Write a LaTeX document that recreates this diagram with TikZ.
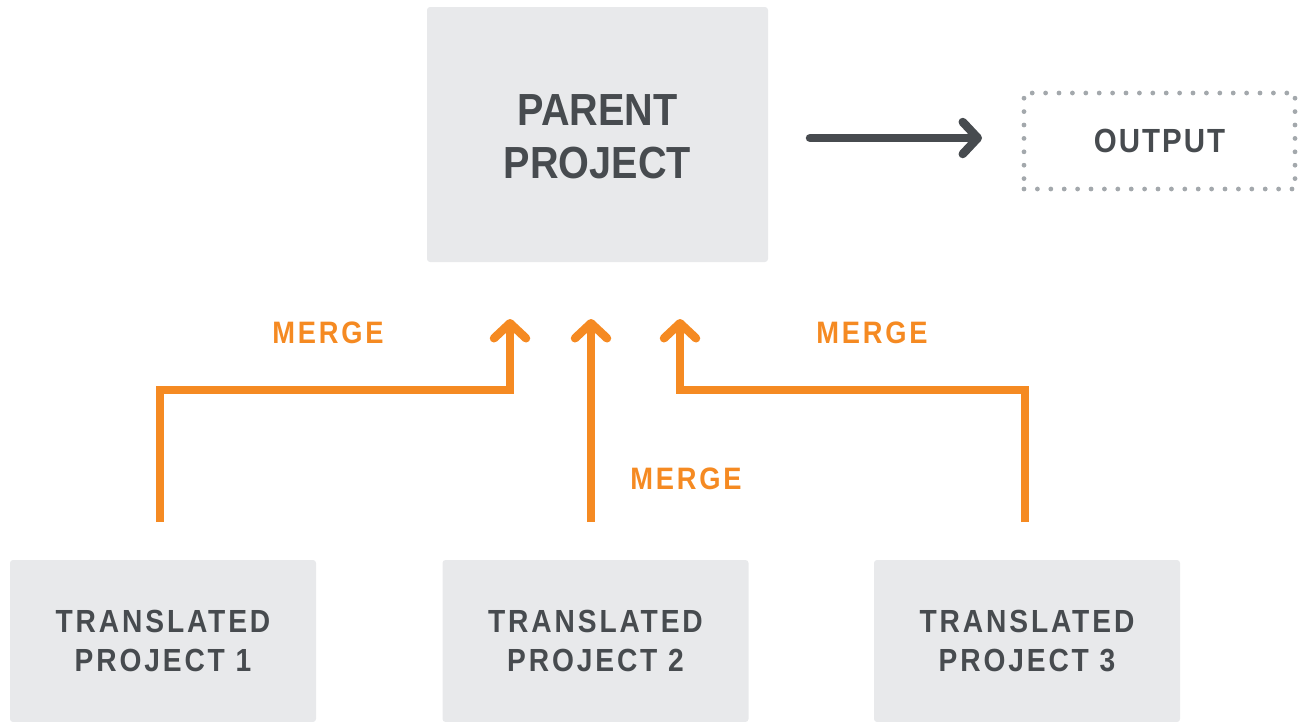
\documentclass[tikz,border=0pt]{standalone}
\usepackage{fontspec}
\setmainfont{Liberation Sans}
\newfontfamily\rb[FakeStretch=0.88]{Liberation Sans}
\newfontfamily\rbs[FakeStretch=0.88,LetterSpace=9]{Liberation Sans}
\newfontfamily\rbo[FakeStretch=0.88,LetterSpace=6]{Liberation Sans}
\usetikzlibrary{arrows.meta}
\definecolor{boxgray}{HTML}{E8E9EB}
\definecolor{txtc}{HTML}{474B4F}
\definecolor{orgc}{HTML}{F58A22}
\definecolor{dotg}{HTML}{A3A8AC}
\begin{document}
\begin{tikzpicture}[x=1pt,y=-1pt,
  box/.style={fill=boxgray, rounded corners=3pt, inner sep=0pt, text=txtc, align=center},
  tbox/.style={box, minimum width=306pt, minimum height=162pt,
    font=\rbs\bfseries\fontsize{32}{39}\selectfont},
  mergelbl/.style={text=orgc, inner sep=0pt, font=\rbs\bfseries\fontsize{31}{36}\selectfont},
  orgarrow/.style={draw=orgc, line width=8.5pt, line join=miter,
    -{Straight Barb[length=15pt, width=32pt, round]}},
  darrow/.style={draw=txtc, line width=8.5pt, line cap=round,
    -{Straight Barb[length=15pt, width=32pt, round]}}
]
\useasboundingbox (0,0) rectangle (1301,721);

\node[box, minimum width=341pt, minimum height=255pt] (parent) at (597.5,134.5) {};
\node[text=txtc, align=center, inner sep=0pt,
  font=\rb\bfseries\fontsize{45}{53}\selectfont] (ptext) at (597.5,137) {PARENT\\PROJECT};

\node[draw=dotg, line width=4.8pt, line cap=round, dash pattern=on 0pt off 13.4pt,
  minimum width=271pt, minimum height=96pt, inner sep=0pt, text=txtc,
  font=\rbo\bfseries\fontsize{33.5}{40}\selectfont] (output) at (1159.5,141) {OUTPUT};

\node[tbox] (t1) at (163,641) {TRANSLATED\\PROJECT 1};
\node[tbox] (t2) at (595.5,641) {TRANSLATED\\PROJECT 2};
\node[tbox] (t3) at (1027,641) {TRANSLATED\\PROJECT 3};

\coordinate (a1) at (810,138);
\coordinate (a2) at (982,138);
\draw[darrow] (a1) -- (a2);

\coordinate (s1) at (160,522);
\coordinate (k1) at (510,390);
\coordinate (e1) at (510,319);
\coordinate (s2) at (591,522);
\coordinate (e2) at (591,319);
\coordinate (s3) at (1025,522);
\coordinate (k3) at (680,390);
\coordinate (e3) at (680,319);

\draw[orgarrow] (s1) |- (k1) -- (e1);
\draw[orgarrow] (s2) -- (e2);
\draw[orgarrow] (s3) |- (k3) -- (e3);

\node[mergelbl] (m1) at (328,333) {MERGE};
\node[mergelbl] (m2) at (686,479) {MERGE};
\node[mergelbl] (m3) at (872,333) {MERGE};
\end{tikzpicture}
\end{document}
